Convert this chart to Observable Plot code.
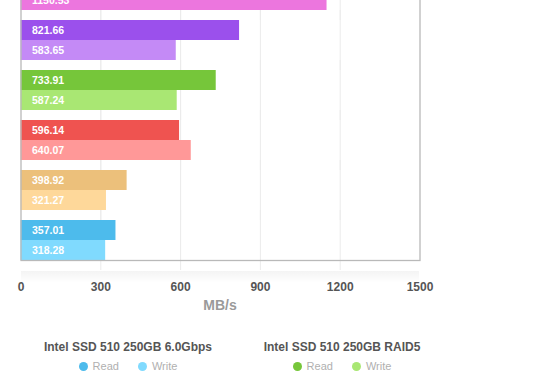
<!DOCTYPE html>
<html>
<head>
<meta charset="utf-8">
<script src="https://cdn.jsdelivr.net/npm/d3@7"></script>
<script src="https://cdn.jsdelivr.net/npm/@observablehq/plot@0.6"></script>
<style>
  html, body { margin: 0; padding: 0; background: #fff; }
  body { width: 560px; height: 390px; position: relative; overflow: hidden; font-family: "Liberation Sans", Arial, sans-serif; }
  #chart { position: absolute; left: 0; top: -40px; }
  #shadow { position: absolute; left: 21px; top: 271px; width: 398px; height: 12px;
    background: linear-gradient(rgba(0,0,0,0.045), rgba(0,0,0,0)); }
  #xlabel { position: absolute; left: 170px; width: 100px; top: 297px; text-align: center;
    font-size: 14px; font-weight: bold; color: #9a9a9a; }
  .lg { position: absolute; top: 340px; text-align: center; }
  .lg .t { font-size: 12px; font-weight: bold; color: #555; white-space: nowrap; }
  .lg .items { margin-top: 6px; font-size: 11px; color: #b0b0b0; white-space: nowrap; }
  .lg .dot { display: inline-block; width: 9px; height: 9px; border-radius: 50%; vertical-align: -1px; margin-right: 5px; }
  .lg .it { display: inline-block; margin: 0 8px; }
</style>
</head>
<body>
<div id="chart"></div>
<div id="shadow"></div>
<div id="xlabel"></div>
<div id="legend"></div>
<script>
// Drives, top to bottom (only the last two are named in the visible legend)
const drives = ["Drive F", "Drive E", "Intel SSD 510 250GB RAID5", "Drive D", "Drive C", "Intel SSD 510 250GB 6.0Gbps"];
const modes = ["Read", "Write"];
const readValues  = [null, 821.66, 733.91, 596.14, 398.92, 357.01];
const writeValues = [1150.53, 583.65, 587.24, 640.07, 321.27, 318.28];
const readColors  = ["#e060d2", "#9b50ec", "#76c63a", "#ef5350", "#ecc07b", "#4dbbec"];
const writeColors = ["#ec76de", "#c48af6", "#a9e773", "#ff9898", "#fed89a", "#80dafe"];
const xTicks = [0, 300, 600, 900, 1200, 1500];
const gridTicks = [300, 600, 900, 1200];
const xLabel = "MB/s";
const legendDrives = ["Intel SSD 510 250GB 6.0Gbps", "Intel SSD 510 250GB RAID5"];

const rows = [];
drives.forEach((d, i) => {
  if (readValues[i] != null) rows.push({drive: d, mode: "Read", value: readValues[i], color: readColors[i]});
  if (writeValues[i] != null) rows.push({drive: d, mode: "Write", value: writeValues[i], color: writeColors[i]});
});

const chart = Plot.plot({
  width: 560,
  height: 360,
  marginTop: 0,
  marginBottom: 50,
  marginLeft: 20.5,
  marginRight: 140.5,
  style: {fontFamily: "'Liberation Sans', Arial, sans-serif", background: "transparent"},
  x: {domain: [0, 1500]},
  fy: {domain: drives, paddingInner: 0.2, paddingOuter: 0.2, axis: null, label: null},
  y: {domain: modes, padding: 0, axis: null, label: null},
  color: {type: "identity"},
  marks: [
    Plot.ruleX(gridTicks, {stroke: "#ebebeb", strokeWidth: 1, insetTop: -10, insetBottom: -10}),
    Plot.barX(rows, {fy: "drive", y: "mode", x: "value", fill: "color"}),
    Plot.text(rows, {fy: "drive", y: "mode", x: 0, dx: 11, text: d => d.value.toFixed(2),
      textAnchor: "start", fill: "white", fontSize: 10.5, fontWeight: "bold"}),
    Plot.frame({facet: "super", stroke: "#b9b9b9", strokeWidth: 1.3}),
    Plot.axisX({ticks: xTicks, tickSize: 0, tickPadding: 22, fontSize: 12, label: null,
      tickFormat: d => String(d), fill: "#555", fontWeight: "bold"})
  ]
});
document.getElementById("chart").appendChild(chart);
document.getElementById("xlabel").textContent = xLabel;

// Legend
const legendPos = [128, 342];
const lg = document.getElementById("legend");
legendDrives.forEach((name, k) => {
  const i = drives.indexOf(name);
  const box = document.createElement("div");
  box.className = "lg";
  box.style.left = (legendPos[k] - 120) + "px";
  box.style.width = "240px";
  box.innerHTML = `<div class="t">${name}</div>
    <div class="items">
      <span class="it"><span class="dot" style="background:${readColors[i]}"></span>${modes[0]}</span>
      <span class="it"><span class="dot" style="background:${writeColors[i]}"></span>${modes[1]}</span>
    </div>`;
  lg.appendChild(box);
});
</script>
</body>
</html>
